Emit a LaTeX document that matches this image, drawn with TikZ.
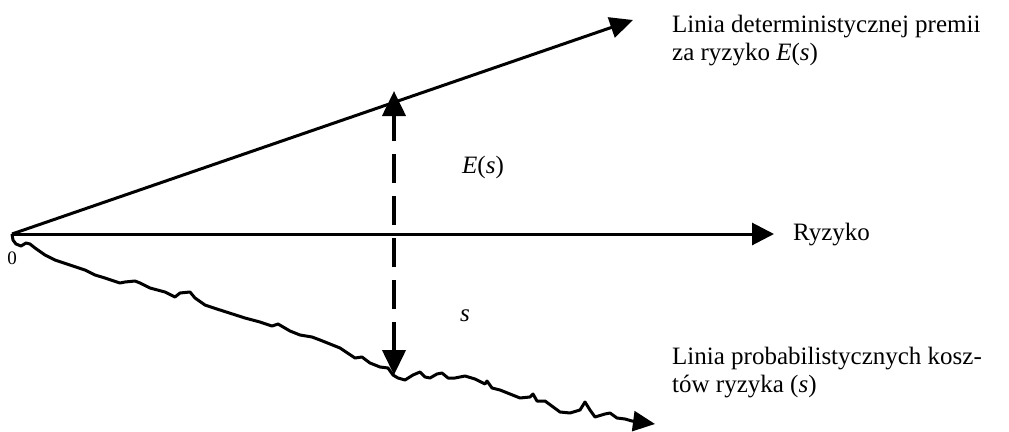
\documentclass[tikz,border=0pt]{standalone}
\usepackage{fontspec}
\setmainfont{Liberation Serif}
\usetikzlibrary{arrows.meta}
\begin{document}
\begin{tikzpicture}[x=1pt,y=-1pt,
  axisline/.style={line width=3pt},
  lbl/.style={inner sep=0pt,font=\fontsize{25}{28}\selectfont},
  sidelbl/.style={lbl,align=left,anchor=base west}]
\useasboundingbox (0,0) rectangle (1009,431);
\coordinate (O) at (12,234);
\coordinate (Xend) at (774,234);
\coordinate (Uend) at (633,20);
\coordinate (Dtop) at (394,91);
\coordinate (Dbot) at (394,375);
\coordinate (Lend) at (655,424);
% horizontal axis
\draw[axisline,-{Triangle[length=22pt,width=22pt]}] (O) -- (Xend);
% upper line
\draw[axisline,-{Triangle[length=23pt,width=21pt]}] (O) -- (Uend);
% dashed double arrow
\draw[line width=4pt,dash pattern=on 29pt off 13pt,dash phase=0pt,
  {Triangle[length=25pt,width=23pt]}-{Triangle[length=25pt,width=23pt]}] (Dbot) -- (Dtop);
% jagged line
\draw[line width=3pt,line join=round,-{Triangle[length=22pt,width=20pt]}]
  (O) -- (13,240) -- (16,244) -- (21,246) -- (26,243) -- (30,244) -- (35,248)
  -- (45,255) -- (55,260) -- (70,265) -- (85,270) -- (95,275) -- (105,278)
  -- (120,283) -- (125,282) -- (135,281) -- (140,283) -- (150,288) -- (165,292)
  -- (175,297) -- (180,293) -- (190,292) -- (195,298) -- (205,305) -- (220,310)
  -- (245,318) -- (260,322) -- (272,326) -- (278,324) -- (290,331) -- (300,335)
  -- (312,337) -- (320,340) -- (330,344) -- (340,348) -- (355,358) -- (362,357)
  -- (370,363) -- (380,367) -- (388,368) -- (393,375) -- (398,378) -- (405,380)
  -- (413,375) -- (420,372) -- (425,377) -- (430,378) -- (437,374) -- (442,373)
  -- (448,378) -- (455,378) -- (465,376) -- (475,379) -- (485,384) -- (487,381)
  -- (492,388) -- (500,390) -- (520,398) -- (530,397) -- (533,394) -- (537,401)
  -- (545,401) -- (560,412) -- (570,413) -- (580,410) -- (585,402) -- (590,410)
  -- (595,417) -- (605,414) -- (610,413) -- (617,418) -- (625,419) -- (632,421)
  -- (Lend);
% labels
\node[lbl,anchor=west] (ryz) at (793,235) {Ryzyko};
\node[lbl,anchor=base west] (es) at (462,173) {\textit{E}(\textit{s})};
\node[lbl,anchor=base west] (s) at (460,321) {\textit{s}};
\node[inner sep=0pt,font=\fontsize{19}{22}\selectfont] (zero) at (12,258) {0};
\node[sidelbl] (up) at (672,60) {Linia deterministycznej premii\\za ryzyko \textit{E}(\textit{s})};
\node[sidelbl] (low) at (672,392) {Linia probabilistycznych kosz-\\tów ryzyka (\textit{s})};
\end{tikzpicture}
\end{document}
